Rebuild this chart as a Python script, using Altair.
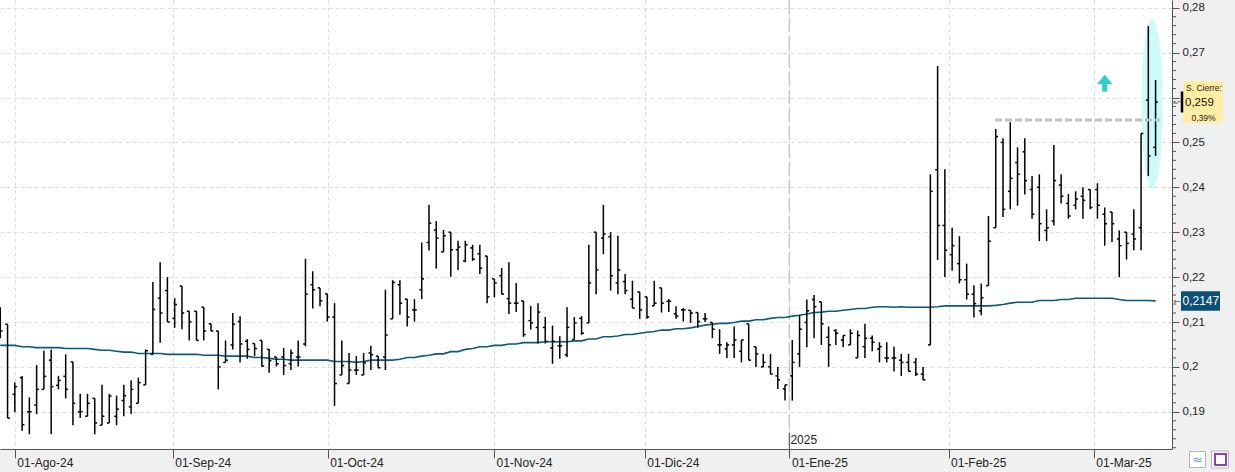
import altair as alt
import pandas as pd

# ---------------- data ----------------
opens = [
    0.2125, 0.2095, 0.1939, 0.1976, 0.1900, 0.1915, 0.1950, 0.2015, 0.1959, 0.1979,
    0.2011, 0.1900, 0.1890, 0.1930, 0.1870, 0.1875, 0.1890, 0.1925, 0.1911, 0.1919,
    0.1960, 0.2028, 0.2153, 0.2170, 0.2108, 0.2180, 0.2124, 0.2124, 0.2133, 0.2096,
    0.2080, 0.2010, 0.2049, 0.2101, 0.2057, 0.2052, 0.2059, 0.2039, 0.2022, 0.2022,
    0.2007, 0.2022, 0.2051, 0.2183, 0.2176, 0.2163, 0.2111, 0.1982, 0.1963, 0.1993,
    0.1982, 0.2031, 0.2024, 0.2022, 0.2107, 0.2183, 0.2151, 0.2127, 0.2172, 0.2277,
    0.2305, 0.2256, 0.2300, 0.2261, 0.2236, 0.2265, 0.2252, 0.2247, 0.2196, 0.2203,
    0.2152, 0.2142, 0.2147, 0.2103, 0.2088, 0.2088, 0.2042, 0.2047, 0.2027, 0.2061,
    0.2108, 0.2098, 0.2300, 0.2287, 0.2290, 0.2187, 0.2190, 0.2151, 0.2167, 0.2156,
    0.2136, 0.2176, 0.2146, 0.2118, 0.2127, 0.2126, 0.2121, 0.2107, 0.2099, 0.2049,
    0.2040, 0.2049, 0.2035, 0.2096, 0.2045, 0.2000, 0.2000, 0.1980, 0.1951, 0.1980,
    0.2029, 0.2099, 0.2150, 0.2145, 0.2066, 0.2081, 0.2060, 0.2049, 0.2020, 0.2045,
    0.2064, 0.2040, 0.2020, 0.2020, 0.2015, 0.2010, 0.2010, 0.1984, 0.2049, 0.2439,
    0.2315, 0.2250, 0.2230, 0.2194, 0.2162, 0.2125, 0.2181, 0.2310, 0.2500, 0.2391,
    0.2455, 0.2479, 0.2395, 0.2400, 0.2304, 0.2325, 0.2405, 0.2364, 0.2360, 0.2380,
    0.2395, 0.2395, 0.2340, 0.2345, 0.2285, 0.2300, 0.2296, 0.2310, 0.2594, 0.2489,
]
highs = [
    0.2133, 0.2095, 0.1965, 0.1980, 0.1932, 0.2004, 0.2036, 0.2039, 0.1980, 0.2028,
    0.2011, 0.1940, 0.1940, 0.1930, 0.1960, 0.1940, 0.1936, 0.1960, 0.1970, 0.1976,
    0.2039, 0.2189, 0.2233, 0.2200, 0.2153, 0.2180, 0.2124, 0.2124, 0.2133, 0.2096,
    0.2080, 0.2059, 0.2120, 0.2113, 0.2062, 0.2052, 0.2059, 0.2040, 0.2022, 0.2042,
    0.2039, 0.2059, 0.2241, 0.2213, 0.2176, 0.2163, 0.2142, 0.2059, 0.2031, 0.2024,
    0.2031, 0.2047, 0.2024, 0.2172, 0.2193, 0.2193, 0.2151, 0.2151, 0.2277, 0.2361,
    0.2325, 0.2305, 0.2300, 0.2281, 0.2281, 0.2272, 0.2272, 0.2247, 0.2196, 0.2220,
    0.2233, 0.2187, 0.2147, 0.2136, 0.2142, 0.2111, 0.2092, 0.2068, 0.2133, 0.2111,
    0.2113, 0.2272, 0.2300, 0.2361, 0.2300, 0.2292, 0.2207, 0.2192, 0.2167, 0.2156,
    0.2192, 0.2176, 0.2151, 0.2135, 0.2131, 0.2126, 0.2121, 0.2120, 0.2099, 0.2084,
    0.2055, 0.2090, 0.2060, 0.2096, 0.2045, 0.2029, 0.2029, 0.2000, 0.1960, 0.2060,
    0.2116, 0.2150, 0.2160, 0.2145, 0.2090, 0.2084, 0.2070, 0.2084, 0.2081, 0.2096,
    0.2070, 0.2055, 0.2055, 0.2045, 0.2029, 0.2029, 0.2020, 0.2000, 0.2429, 0.2670,
    0.2440, 0.2310, 0.2291, 0.2230, 0.2182, 0.2186, 0.2336, 0.2530, 0.2509, 0.2545,
    0.2489, 0.2509, 0.2425, 0.2429, 0.2351, 0.2494, 0.2429, 0.2385, 0.2391, 0.2400,
    0.2395, 0.2409, 0.2355, 0.2345, 0.2304, 0.2300, 0.2351, 0.2520, 0.2759, 0.2639,
]
lows = [
    0.2064, 0.1886, 0.1899, 0.1858, 0.1850, 0.1895, 0.1950, 0.1850, 0.1950, 0.1930,
    0.1870, 0.1886, 0.1890, 0.1850, 0.1870, 0.1875, 0.1870, 0.1890, 0.1895, 0.1919,
    0.1960, 0.2028, 0.2054, 0.2100, 0.2087, 0.2084, 0.2059, 0.2059, 0.2059, 0.2080,
    0.1950, 0.2010, 0.2039, 0.2010, 0.2018, 0.2024, 0.2001, 0.1987, 0.2001, 0.1982,
    0.1993, 0.2001, 0.2046, 0.2130, 0.2135, 0.2101, 0.1913, 0.1982, 0.1963, 0.1982,
    0.1982, 0.1993, 0.1998, 0.1993, 0.2107, 0.2116, 0.2090, 0.2101, 0.2151, 0.2259,
    0.2219, 0.2256, 0.2201, 0.2216, 0.2233, 0.2236, 0.2207, 0.2142, 0.2155, 0.2162,
    0.2118, 0.2122, 0.2067, 0.2083, 0.2052, 0.2052, 0.2007, 0.2018, 0.2022, 0.2061,
    0.2071, 0.2098, 0.2162, 0.2251, 0.2170, 0.2162, 0.2162, 0.2131, 0.2107, 0.2107,
    0.2136, 0.2121, 0.2122, 0.2107, 0.2101, 0.2098, 0.2087, 0.2100, 0.2064, 0.2029,
    0.2020, 0.2020, 0.2010, 0.2015, 0.2000, 0.2000, 0.1984, 0.1951, 0.1925, 0.1925,
    0.2000, 0.2044, 0.2064, 0.2049, 0.2000, 0.2049, 0.2044, 0.2049, 0.2020, 0.2020,
    0.2035, 0.2010, 0.2010, 0.1990, 0.1980, 0.1990, 0.1980, 0.1971, 0.2049, 0.2238,
    0.2200, 0.2214, 0.2186, 0.2150, 0.2110, 0.2115, 0.2181, 0.2310, 0.2334, 0.2351,
    0.2359, 0.2384, 0.2330, 0.2280, 0.2280, 0.2315, 0.2364, 0.2330, 0.2351, 0.2330,
    0.2351, 0.2330, 0.2270, 0.2278, 0.2200, 0.2239, 0.2260, 0.2260, 0.2425, 0.2470,
]
closes = [
    0.2080, 0.1886, 0.1956, 0.1871, 0.1900, 0.1950, 0.1979, 0.1956, 0.1970, 0.1950,
    0.1919, 0.1900, 0.1919, 0.1875, 0.1890, 0.1935, 0.1906, 0.1936, 0.1950, 0.1965,
    0.2036, 0.2128, 0.2120, 0.2100, 0.2139, 0.2120, 0.2100, 0.2059, 0.2080, 0.2080,
    0.2000, 0.2015, 0.2095, 0.2051, 0.2039, 0.2041, 0.2002, 0.2014, 0.2007, 0.2003,
    0.2031, 0.2022, 0.2162, 0.2172, 0.2147, 0.2111, 0.1963, 0.2003, 0.1993, 0.1993,
    0.2009, 0.2027, 0.1998, 0.2071, 0.2188, 0.2142, 0.2111, 0.2127, 0.2196, 0.2320,
    0.2287, 0.2292, 0.2261, 0.2267, 0.2272, 0.2240, 0.2220, 0.2156, 0.2187, 0.2162,
    0.2142, 0.2142, 0.2072, 0.2098, 0.2122, 0.2057, 0.2057, 0.2047, 0.2088, 0.2098,
    0.2075, 0.2187, 0.2216, 0.2296, 0.2203, 0.2216, 0.2170, 0.2131, 0.2127, 0.2111,
    0.2142, 0.2142, 0.2146, 0.2113, 0.2127, 0.2120, 0.2101, 0.2107, 0.2084, 0.2049,
    0.2049, 0.2060, 0.2060, 0.2015, 0.2029, 0.2010, 0.1984, 0.1971, 0.1960, 0.2010,
    0.2084, 0.2125, 0.2134, 0.2096, 0.2049, 0.2075, 0.2070, 0.2075, 0.2070, 0.2064,
    0.2055, 0.2045, 0.2020, 0.2020, 0.2010, 0.1990, 0.1984, 0.1971, 0.2391, 0.2315,
    0.2260, 0.2270, 0.2194, 0.2162, 0.2141, 0.2154, 0.2280, 0.2513, 0.2351, 0.2420,
    0.2429, 0.2415, 0.2340, 0.2319, 0.2310, 0.2415, 0.2380, 0.2336, 0.2374, 0.2371,
    0.2355, 0.2360, 0.2319, 0.2319, 0.2270, 0.2275, 0.2285, 0.2520, 0.2470, 0.2590,
]
moving_avg = [
    0.2048, 0.2048, 0.2048, 0.2045, 0.2045, 0.2043, 0.2043, 0.2043, 0.2043, 0.2041,
    0.2041, 0.2041, 0.2041, 0.2039, 0.2037, 0.2037, 0.2035, 0.2033, 0.2033, 0.2030,
    0.2030, 0.2030, 0.2030, 0.2028, 0.2028, 0.2028, 0.2028, 0.2028, 0.2026, 0.2026,
    0.2026, 0.2024, 0.2024, 0.2024, 0.2024, 0.2021, 0.2021, 0.2019, 0.2017, 0.2017,
    0.2015, 0.2015, 0.2015, 0.2015, 0.2015, 0.2015, 0.2012, 0.2012, 0.2012, 0.2010,
    0.2012, 0.2015, 0.2015, 0.2015, 0.2015, 0.2017, 0.2021, 0.2021, 0.2024, 0.2026,
    0.2029, 0.2029, 0.2034, 0.2034, 0.2039, 0.2041, 0.2045, 0.2045, 0.2048, 0.2048,
    0.2051, 0.2051, 0.2054, 0.2054, 0.2054, 0.2056, 0.2056, 0.2056, 0.2056, 0.2058,
    0.2058, 0.2062, 0.2062, 0.2067, 0.2067, 0.2069, 0.2072, 0.2072, 0.2075, 0.2077,
    0.2079, 0.2082, 0.2082, 0.2085, 0.2085, 0.2087, 0.2090, 0.2093, 0.2095, 0.2097,
    0.2097, 0.2099, 0.2102, 0.2102, 0.2105, 0.2105, 0.2108, 0.2110, 0.2110, 0.2113,
    0.2115, 0.2118, 0.2121, 0.2122, 0.2124, 0.2124, 0.2126, 0.2128, 0.2130, 0.2130,
    0.2133, 0.2134, 0.2134, 0.2133, 0.2134, 0.2133, 0.2133, 0.2133, 0.2133, 0.2134,
    0.2136, 0.2136, 0.2136, 0.2136, 0.2136, 0.2136, 0.2136, 0.2137, 0.2139, 0.2142,
    0.2144, 0.2144, 0.2144, 0.2148, 0.2148, 0.2148, 0.2150, 0.2150, 0.2153, 0.2153,
    0.2153, 0.2153, 0.2153, 0.2153, 0.2150, 0.2148, 0.2148, 0.2148, 0.2148, 0.2147,
]

# month ticks (positions in trading-day index) and their labels
month_ticks = [2.0, 23.73, 45.06, 67.95, 88.7, 108.6, 130.5, 150.5]
month_labels = ["01-Ago-24", "01-Sep-24", "01-Oct-24", "01-Nov-24",
                "01-Dic-24", "01-Ene-25", "01-Feb-25", "01-Mar-25"]
year_tick = [108.6]
year_label = ["2025"]
y_ticks = [0.19, 0.20, 0.21, 0.22, 0.23, 0.24, 0.25, 0.26, 0.27, 0.28]
y_hidden_label = 0.26   # covered by the closing-price box in the reference
y_minor = [0.182, 0.184, 0.186, 0.188, 0.192, 0.194, 0.196, 0.198,
           0.202, 0.204, 0.206, 0.208, 0.212, 0.214, 0.216, 0.218,
           0.222, 0.224, 0.226, 0.228, 0.232, 0.234, 0.236, 0.238,
           0.242, 0.244, 0.246, 0.248, 0.252, 0.254, 0.256, 0.258,
           0.262, 0.264, 0.266, 0.268, 0.272, 0.274, 0.276, 0.278]

# annotations
resist_level = [0.2550]
resist_from = [136.9]
resist_to = [159.6]
signal_idx = [152.0]
signal_val = [0.2632]
highlight_idx = [158.5]
highlight_val = [0.2585]
close_title = "S. Cierre:"
close_change = "0,39%"

# ---------------- frames ----------------
n = len(closes)
bars = pd.DataFrame({"idx": list(range(n)), "open": opens, "high": highs,
                     "low": lows, "close": closes, "ma": moving_avg})

W, H = 1172, 449
PX_PER_UNIT = 4490.0
y_top = 0.28 + 7.7 / PX_PER_UNIT
y_dom = [y_top - H / PX_PER_UNIT, y_top]
x_dom = [-0.04, -0.04 + W / 7.266]

FONT = "Liberation Sans"

x_expr = "''"
for t, lab in reversed(list(zip(month_ticks, month_labels))):
    x_expr = f"abs(datum.value - {t}) < 0.01 ? '{lab}' : {x_expr}"
y_expr = (f"abs(datum.value - {y_hidden_label}) < 0.0005 ? '' : "
          "replace(format(datum.value, '.2~f'), '.', ',')")

xscale = alt.Scale(domain=x_dom, nice=False, zero=False)
yscale = alt.Scale(domain=y_dom, nice=False, zero=False)
xaxis = alt.Axis(values=month_ticks, labelExpr=x_expr, title=None, grid=True,
                 gridColor="#dcdcdc", gridDash=[4, 3], tickSize=9,
                 tickColor="#555555", domainColor="#555555", labelAlign="left",
                 labelBaseline="middle", labelPadding=4, labelOffset=2,
                 labelFontSize=12, labelFont=FONT, labelColor="#222222",
                 labelFlush=False, labelOverlap=False, labelBound=False)
yaxis = alt.Axis(orient="right", values=y_ticks, title=None, grid=True,
                 labelExpr=y_expr,
                 gridColor="#dcdcdc", gridDash=[4, 3], tickSize=7,
                 tickColor="#555555", domainColor="#555555", labelPadding=3,
                 labelBaseline="middle", labelFontSize=11.5, labelFont=FONT,
                 labelColor="#222222", labelFlush=False, labelOverlap=False)


def X(f):
    return alt.X(f, type="quantitative", scale=xscale, axis=xaxis)


def Y(f):
    return alt.Y(f, type="quantitative", scale=yscale, axis=yaxis)


def rect_path(w, h):
    r = h / w
    return f"M-1,-{r:.4f} L1,-{r:.4f} L1,{r:.4f} L-1,{r:.4f} Z"


def ellipse_path(w, h):
    a = w / h
    k = 0.5523
    return (f"M0,-1 C{k*a:.4f},-1 {a:.4f},-{k} {a:.4f},0 "
            f"C{a:.4f},{k} {k*a:.4f},1 0,1 C-{k*a:.4f},1 -{a:.4f},{k} -{a:.4f},0 "
            f"C-{a:.4f},-{k} -{k*a:.4f},-1 0,-1 Z")


arrow_path = "M0,-1 L0.92,0.12 L0.3,0.12 L0.3,1 L-0.3,1 L-0.3,0.12 L-0.92,0.12 Z"

# ---------------- layers ----------------
hl_df = pd.DataFrame({"idx": highlight_idx, "v": highlight_val})
ellipse = alt.Chart(hl_df).mark_point(
    shape=ellipse_path(21, 170), size=170 ** 2, filled=True,
    color="#ccfbfb", opacity=1, strokeWidth=0
).encode(x=X("idx"), y=Y("v"))

ma_line = alt.Chart(bars).mark_line(color="#0b5a7e", strokeWidth=1.6).encode(
    x=X("idx"), y=Y("ma"))

BW = 1.5
hl = alt.Chart(bars).mark_rule(color="#000000", strokeWidth=BW).encode(
    x=X("idx"), y=Y("low"), y2=alt.Y2("high"))

open_tick = alt.Chart(bars).transform_calculate(
    xl="datum.idx - 0.32"
).mark_rule(color="#000000", strokeWidth=BW).encode(
    x=X("xl"), x2=alt.X2("idx"), y=Y("open"))

close_tick = alt.Chart(bars).transform_calculate(
    xr="datum.idx + 0.32"
).mark_rule(color="#000000", strokeWidth=BW).encode(
    x=X("idx"), x2=alt.X2("xr"), y=Y("close"))

res_df = pd.DataFrame({"a": resist_from, "b": resist_to, "v": resist_level})
resist = alt.Chart(res_df).mark_rule(
    color="#c0c0c0", strokeWidth=3, strokeDash=[7, 3]
).encode(x=X("a"), x2=alt.X2("b"), y=Y("v"))

sig_df = pd.DataFrame({"idx": signal_idx, "v": signal_val})
signal = alt.Chart(sig_df).mark_point(
    shape=arrow_path, size=17 ** 2, filled=True, color="#33cccc",
    opacity=1, strokeWidth=0
).encode(x=X("idx"), y=Y("v"))

yr_df = pd.DataFrame({"t": year_tick, "lab": year_label})
year_rule = alt.Chart(yr_df).mark_rule(
    color="#c8c8c8", strokeWidth=1.6, strokeDash=[14, 4]
).encode(x=X("t"), y=alt.value(0), y2=alt.value(H))
year_mark = alt.Chart(yr_df).mark_rule(color="#555555", strokeWidth=1).encode(
    x=X("t"), y=alt.value(433), y2=alt.value(H))
year_text = alt.Chart(yr_df).mark_text(
    align="left", baseline="middle", dx=1, fontSize=12, font=FONT,
    color="#222222"
).encode(x=X("t"), y=alt.value(440), text="lab:N")

minor_df = pd.DataFrame({"v": y_minor})
minor = alt.Chart(minor_df).mark_rule(color="#555555", strokeWidth=1).encode(
    y=Y("v"), x=alt.value(W), x2=alt.value(W + 4))

last = pd.DataFrame({
    "close": [closes[-1]], "ma": [moving_avg[-1]],
    "title": [close_title],
    "ctext": [f"{closes[-1]:.3f}".replace(".", ",")],
    "chg": [close_change],
    "mtext": [f"{moving_avg[-1]:.4f}".replace(".", ",")],
})
ybox = alt.Chart(last).mark_point(
    shape=rect_path(39.5, 42), size=39.5 ** 2, filled=True, color="#ffeda3",
    opacity=1, strokeWidth=0
).encode(x=alt.value(1203), y=Y("close"))
ymark = alt.Chart(last).mark_point(
    shape=rect_path(2.5, 21), size=2.5 ** 2, filled=True, color="#000000",
    opacity=1, strokeWidth=0
).encode(x=alt.value(1182), y=Y("close"))
t1 = alt.Chart(last).mark_text(align="left", baseline="middle", dy=-14,
                               fontSize=8.5, font=FONT, color="#222222").encode(
    x=alt.value(1186), y=Y("close"), text="title:N")
t2 = alt.Chart(last).mark_text(align="left", baseline="middle", dy=1,
                               fontSize=11.5, font=FONT, color="#111111").encode(
    x=alt.value(1185), y=Y("close"), text="ctext:N")
t3 = alt.Chart(last).mark_text(align="center", baseline="middle", dy=16,
                               fontSize=8.5, font=FONT, color="#222222").encode(
    x=alt.value(1203.5), y=Y("close"), text="chg:N")
arr1 = alt.Chart(last).mark_text(align="center", baseline="middle",
                                 fontSize=9, font="DejaVu Sans", color="#666666").encode(
    x=alt.value(1177), y=Y("close"), text=alt.value("\u219c"))

bbox = alt.Chart(last).mark_point(
    shape=rect_path(39, 19.5), size=39 ** 2, filled=True, color="#0a5078",
    opacity=1, strokeWidth=0
).encode(x=alt.value(1200.5), y=Y("ma"))
t4 = alt.Chart(last).mark_text(align="left", baseline="middle", dy=0,
                               fontSize=12, font=FONT, color="#ffffff").encode(
    x=alt.value(1182.5), y=Y("ma"), text="mtext:N")
arr2 = alt.Chart(last).mark_text(align="center", baseline="middle",
                                 fontSize=9, font="DejaVu Sans", color="#666666").encode(
    x=alt.value(1177), y=Y("ma"), text=alt.value("\u2190"))

icon_df = pd.DataFrame({"k": [0]})
icon1 = alt.Chart(icon_df).mark_point(
    shape="square", size=16 ** 2, filled=True, fill="#ffffff", stroke="#b4b4b4",
    strokeWidth=1, opacity=1).encode(x=alt.value(1197.5), y=alt.value(459.5))
icon1g = alt.Chart(icon_df).mark_text(
    fontSize=13, font="DejaVu Sans", color="#5a9fd4", baseline="middle",
    align="center").encode(x=alt.value(1197.5), y=alt.value(459.5),
                           text=alt.value("\u2248"))
icon2 = alt.Chart(icon_df).mark_point(
    shape="square", size=17 ** 2, filled=True, fill="#ffffff", stroke="#b4b4b4",
    strokeWidth=1, opacity=1).encode(x=alt.value(1220), y=alt.value(459.5))
icon2g = alt.Chart(icon_df).mark_point(
    shape="square", size=11 ** 2, filled=False, stroke="#8a3fc0",
    strokeWidth=2, opacity=1).encode(x=alt.value(1220.5), y=alt.value(459.5))

chart = alt.layer(
    ellipse, year_rule, ma_line, hl, open_tick, close_tick, resist, signal,
    year_mark, year_text, minor, ybox, ymark, t1, t2, t3, arr1, bbox, t4, arr2,
    icon1, icon1g, icon2, icon2g
).properties(
    width=W, height=H, background="#f0f0f0",
    padding={"left": 0, "top": 0, "right": 63, "bottom": 23},
    autosize=alt.AutoSizeParams(type="none"),
).configure_view(fill="#ffffff", strokeWidth=0)

chart.save("out.html", embed_options={"renderer": "svg", "actions": False})
